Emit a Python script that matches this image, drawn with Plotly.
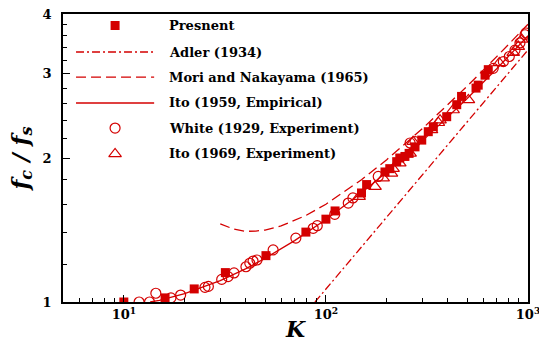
import math
import plotly.graph_objects as go

RED = "#d40000"
FONT = "DejaVu Serif, serif"

# Present results (filled squares)
present_K = [10, 16, 22.3, 31.8, 50.5, 79.6, 100, 111, 150, 159, 196, 207, 224, 232,
             246, 258, 276, 298, 321, 340, 396, 444, 469, 553, 567, 613, 636]
present_f = [1.0, 1.02, 1.065, 1.152, 1.25, 1.40, 1.49, 1.55, 1.69, 1.76, 1.87, 1.90,
             1.965, 2.0, 2.015, 2.045, 2.11, 2.18, 2.27, 2.325, 2.44, 2.585, 2.69,
             2.80, 2.84, 2.98, 3.06]

# Adler (1934)
adler_K = [88.3, 100, 150, 200, 300, 500, 700, 1000]
adler_f = [1.0, 1.064, 1.303, 1.505, 1.843, 2.379, 2.815, 3.365]

# Mori and Nakayama (1965)
mori_K = [30, 35, 40, 45, 50, 60, 80, 100, 150, 200, 300, 400, 500, 700, 1000]
mori_f = [1.457, 1.420, 1.405, 1.407, 1.414, 1.442, 1.518, 1.601, 1.801, 1.984,
          2.303, 2.579, 2.826, 3.258, 3.807]

# Ito (1959) empirical correlation
ito59_K = [13.5, 15, 20, 30, 40, 50, 70, 100, 150, 200, 300, 400, 500, 700, 1000]
ito59_f = [1.000, 1.008, 1.041, 1.108, 1.173, 1.234, 1.344, 1.488, 1.692, 1.869,
           2.172, 2.432, 2.663, 3.073, 3.603]

# White (1929) experiments
white_K = [11.9, 13.4, 14.4, 17.1, 19.1, 25.2, 26.2, 30.5, 32.8, 35.1, 40.2, 42.0,
           43.6, 45.6, 54.8, 71, 86.5, 90.6, 110.6, 129, 136, 181.5, 261, 276,
           673, 755, 808, 862, 912, 967, 978]
white_f = [1.0, 1.0, 1.043, 1.02, 1.034, 1.073, 1.078, 1.115, 1.13, 1.15, 1.185, 1.205,
           1.218, 1.224, 1.285, 1.36, 1.426, 1.444, 1.525, 1.61, 1.65, 1.83, 2.15, 2.163,
           3.08, 3.18, 3.26, 3.36, 3.48, 3.62, 3.65]

# Ito (1969) experiments
ito69_K = [146, 175, 192, 211, 215, 232, 261, 270, 333, 360, 367, 426, 507, 721,
           845, 895, 931]
ito69_f = [1.661, 1.743, 1.815, 1.858, 1.90, 1.951, 2.046, 2.163, 2.29, 2.37, 2.40,
           2.52, 2.645, 3.16, 3.32, 3.42, 3.54]

x_ticks = [10, 100, 1000]
x_ticktext = ["10<sup>1</sup>", "10<sup>2</sup>", "10<sup>3</sup>"]
x_minor = [5, 6, 7, 8, 9] + [d * 10 for d in range(2, 10)] + [d * 100 for d in range(2, 10)]
y_ticks = [1, 2, 3, 4]
y_minor = [1.2, 1.4, 1.6, 1.8, 2.2, 2.4, 2.6, 2.8, 3.2, 3.4, 3.6, 3.8]

DASH_ADLER = "8px,3px,2px,3px"
DASH_MORI = "10px,5px"

series = [
    dict(name="Presnent", kind="square", x=present_K, y=present_f),
    dict(name="Adler (1934)", kind="line", dash=DASH_ADLER, x=adler_K, y=adler_f),
    dict(name="Mori and Nakayama (1965)", kind="line", dash=DASH_MORI, x=mori_K, y=mori_f),
    dict(name="Ito (1959, Empirical)", kind="line", dash="solid", x=ito59_K, y=ito59_f),
    dict(name="White (1929, Experiment)", kind="circle", x=white_K, y=white_f),
    dict(name="Ito (1969, Experiment)", kind="triangle", x=ito69_K, y=ito69_f),
]

MARKERS = {
    "square": dict(symbol="square", size=9, color=RED, line=dict(width=0)),
    "circle": dict(symbol="circle-open", size=10, color=RED, line=dict(width=1.2, color=RED)),
    "triangle": dict(symbol="triangle-up-open", size=11, color=RED, line=dict(width=1.2, color=RED)),
}

fig = go.Figure()

# curves first, then symbols on top
order = [1, 2, 3, 4, 5, 0]
for i in order:
    s = series[i]
    if s["kind"] == "line":
        fig.add_trace(go.Scatter(x=s["x"], y=s["y"], mode="lines", name=s["name"],
                                 line=dict(color=RED, width=1.3, dash=s["dash"]),
                                 showlegend=False, hoverinfo="skip"))
    else:
        fig.add_trace(go.Scatter(x=s["x"], y=s["y"], mode="markers", name=s["name"],
                                 marker=MARKERS[s["kind"]], showlegend=False))

# key drawn inside the plot area on a unit overlay axis
key_rows = [0.960, 0.868, 0.781, 0.691, 0.604, 0.514]
key_sym_x = 0.112
key_line_x = [0.028, 0.196]
key_text_x = 0.224
for s, ry in zip(series, key_rows):
    if s["kind"] == "line":
        fig.add_trace(go.Scatter(x=key_line_x, y=[ry, ry], mode="lines",
                                 line=dict(color=RED, width=1.3, dash=s["dash"]),
                                 xaxis="x2", yaxis="y2", showlegend=False, hoverinfo="skip"))
    else:
        fig.add_trace(go.Scatter(x=[key_sym_x], y=[ry], mode="markers",
                                 marker=MARKERS[s["kind"]],
                                 xaxis="x2", yaxis="y2", showlegend=False, hoverinfo="skip"))
    fig.add_annotation(x=key_text_x, y=ry, xref="paper", yref="paper", text="<b>" + s["name"] + "</b>",
                       showarrow=False, xanchor="left", yanchor="middle",
                       font=dict(family=FONT, size=13, color="black"))

axis_common = dict(
    type="log", showgrid=False, zeroline=False, automargin=False,
    showline=True, linecolor="black", linewidth=1.5, mirror=True,
    ticks="inside", ticklen=7, tickwidth=1, tickcolor="black",
    ticklabeloverflow="allow",
    tickfont=dict(family=FONT, size=13, color="black"),
)

fig.update_layout(
    width=539, height=342,
    margin=dict(l=63, r=11, t=14, b=40),
    paper_bgcolor="white", plot_bgcolor="white",
    font=dict(family=FONT, color="black"),
    xaxis=dict(
        **axis_common,
        range=[math.log10(5), 3],
        tickmode="array", tickvals=x_ticks, ticktext=["<b>" + t + "</b>" for t in x_ticktext],
        minor=dict(tickmode="array", tickvals=x_minor, ticks="inside", ticklen=4,
                   tickwidth=1, tickcolor="black", showgrid=False),
        title=dict(text="<b><i>K</i></b>", standoff=3,
                   font=dict(family=FONT, size=22, color="black")),
    ),
    yaxis=dict(
        **axis_common,
        range=[0, math.log10(4)],
        tickmode="array", tickvals=y_ticks, ticktext=["<b>%d</b>" % v for v in y_ticks],
        ticklabelstandoff=7,
        minor=dict(tickmode="array", tickvals=y_minor, ticks="inside", ticklen=4,
                   tickwidth=1, tickcolor="black", showgrid=False),
        title=dict(text="<b><i>f<sub>c</sub> / f<sub>s</sub></i></b>", standoff=8,
                   font=dict(family=FONT, size=23, color="black")),
    ),
    xaxis2=dict(overlaying="x", range=[0, 1], visible=False, fixedrange=True),
    yaxis2=dict(overlaying="y", range=[0, 1], visible=False, fixedrange=True),
    showlegend=False,
)

fig.write_html("out.html")
